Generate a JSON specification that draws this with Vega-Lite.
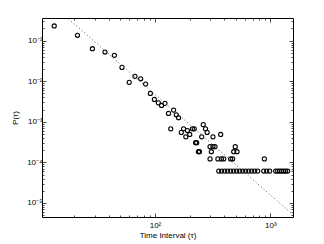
{
  "$schema": "https://vega.github.io/schema/vega-lite/v6.json",
  "width": 251,
  "height": 199,
  "autosize": {"type": "none"},
  "padding": {"left": 42, "top": 18, "right": 31, "bottom": 27},
  "background": "white",
  "config": {
    "view": {"stroke": null},
    "font": "Liberation Sans",
    "axis": {"labelFont": "Liberation Sans", "titleFont": "Liberation Sans", "labelFontSize": 8, "titleFontSize": 8, "titleFontWeight": "normal", "labelColor": "#000", "titleColor": "#000", "domainColor": "#000", "tickColor": "#000", "domainWidth": 1, "tickWidth": 0.7, "grid": false, "labelOverlap": false, "labelFlush": false}
  },
  "datasets": {
    "pts": [
      {"t": 13.4, "p": 0.231}, {"t": 21.3, "p": 0.136}, {"t": 28.7, "p": 0.0634}, {"t": 36.9, "p": 0.0526},
      {"t": 44.5, "p": 0.0436}, {"t": 51.8, "p": 0.022}, {"t": 59.8, "p": 0.0094}, {"t": 67.1, "p": 0.0132},
      {"t": 75.2, "p": 0.0115}, {"t": 83.0, "p": 0.00853}, {"t": 91.2, "p": 0.00502}, {"t": 98.8, "p": 0.00357},
      {"t": 107, "p": 0.00294}, {"t": 114, "p": 0.00254}, {"t": 122, "p": 0.00285}, {"t": 131, "p": 0.00161},
      {"t": 145, "p": 0.00195}, {"t": 153, "p": 0.00149}, {"t": 160, "p": 0.00126}, {"t": 137, "p": 0.000671},
      {"t": 169, "p": 0.000549}, {"t": 177, "p": 0.000671}, {"t": 191, "p": 0.00061}, {"t": 200, "p": 0.000488},
      {"t": 185, "p": 0.000427}, {"t": 211, "p": 0.000671}, {"t": 219, "p": 0.000671}, {"t": 225, "p": 0.000305},
      {"t": 230, "p": 0.000305}, {"t": 238, "p": 0.000183}, {"t": 243, "p": 0.000183}, {"t": 262, "p": 0.000854},
      {"t": 274, "p": 0.000671}, {"t": 283, "p": 0.000549}, {"t": 254, "p": 0.000427}, {"t": 318, "p": 0.000427},
      {"t": 371, "p": 0.000488}, {"t": 300, "p": 0.000244}, {"t": 318, "p": 0.000244}, {"t": 331, "p": 0.000244},
      {"t": 308, "p": 0.000183}, {"t": 300, "p": 0.000122}, {"t": 351, "p": 0.000122}, {"t": 376, "p": 0.000122},
      {"t": 394, "p": 0.000122}, {"t": 453, "p": 0.000122}, {"t": 471, "p": 0.000122}, {"t": 496, "p": 0.000244},
      {"t": 481, "p": 0.000183}, {"t": 514, "p": 0.000183}, {"t": 887, "p": 0.000122},
      {"t": 357, "p": 6.1e-05}, {"t": 378, "p": 6.1e-05}, {"t": 402, "p": 6.1e-05}, {"t": 426, "p": 6.1e-05},
      {"t": 453, "p": 6.1e-05}, {"t": 481, "p": 6.1e-05}, {"t": 511, "p": 6.1e-05}, {"t": 542, "p": 6.1e-05},
      {"t": 576, "p": 6.1e-05}, {"t": 611, "p": 6.1e-05}, {"t": 649, "p": 6.1e-05}, {"t": 689, "p": 6.1e-05},
      {"t": 731, "p": 6.1e-05}, {"t": 776, "p": 6.1e-05}, {"t": 875, "p": 6.1e-05}, {"t": 929, "p": 6.1e-05},
      {"t": 986, "p": 6.1e-05}, {"t": 1111, "p": 6.1e-05}, {"t": 1156, "p": 6.1e-05}, {"t": 1205, "p": 6.1e-05},
      {"t": 1253, "p": 6.1e-05}, {"t": 1303, "p": 6.1e-05}, {"t": 1357, "p": 6.1e-05}, {"t": 1413, "p": 6.1e-05}
    ],
    "fit": [
      {"t": 10.5, "p": 1.28},
      {"t": 1570, "p": 5.15e-06}
    ]
  },
  "layer": [
    {
      "data": {"name": "pts"},
      "mark": {"type": "point", "shape": "circle", "filled": false, "stroke": "#000", "strokeWidth": 1.1, "size": 17, "opacity": 1},
      "encoding": {
        "x": {"field": "t", "type": "quantitative",
          "scale": {"type": "log", "domain": [10.5, 1570], "nice": false},
          "axis": {"orient": "bottom", "title": "Time Interval (τ)", "titlePadding": 0,
            "values": [20,30,40,50,60,70,80,90,100,200,300,400,500,600,700,800,900,1000],
            "tickSize": {"condition": {"test": "datum.value==100||datum.value==1000", "value": -4}, "value": -2},
            "labelPadding": 8,
            "labelExpr": "datum.value==100?'10²':datum.value==1000?'10³':''"}},
        "y": {"field": "p", "type": "quantitative",
          "scale": {"type": "log", "domain": [4.5e-06, 0.363], "nice": false},
          "axis": {"orient": "left", "title": "P(τ)", "titlePadding": 7,
            "values": [5e-06,6e-06,7e-06,8e-06,9e-06,1e-05,2e-05,3e-05,4e-05,5e-05,6e-05,7e-05,8e-05,9e-05,0.0001,0.0002,0.0003,0.0004,0.0005,0.0006,0.0007,0.0008,0.0009,0.001,0.002,0.003,0.004,0.005,0.006,0.007,0.008,0.009,0.01,0.02,0.03,0.04,0.05,0.06,0.07,0.08,0.09,0.1,0.2,0.3],
            "tickSize": {"condition": {"test": "datum.value==1e-05||datum.value==0.0001||datum.value==0.001||datum.value==0.01||datum.value==0.1", "value": -4}, "value": -2},
            "labelPadding": 4,
            "labelExpr": "datum.value==0.1?'10⁻¹':datum.value==0.01?'10⁻²':datum.value==0.001?'10⁻³':datum.value==0.0001?'10⁻⁴':datum.value==1e-05?'10⁻⁵':''"}}
      }
    },
    {
      "data": {"name": "fit"},
      "mark": {"type": "line", "clip": true, "stroke": "#555", "strokeWidth": 1, "strokeDash": [1, 2.5]},
      "encoding": {
        "x": {"field": "t", "type": "quantitative",
          "axis": {"orient": "top", "title": null, "labels": false,
            "values": [20,30,40,50,60,70,80,90,100,200,300,400,500,600,700,800,900,1000],
            "tickSize": {"condition": {"test": "datum.value==100||datum.value==1000", "value": -4}, "value": -2}}},
        "y": {"field": "p", "type": "quantitative",
          "axis": {"orient": "right", "title": null, "labels": false,
            "values": [5e-06,6e-06,7e-06,8e-06,9e-06,1e-05,2e-05,3e-05,4e-05,5e-05,6e-05,7e-05,8e-05,9e-05,0.0001,0.0002,0.0003,0.0004,0.0005,0.0006,0.0007,0.0008,0.0009,0.001,0.002,0.003,0.004,0.005,0.006,0.007,0.008,0.009,0.01,0.02,0.03,0.04,0.05,0.06,0.07,0.08,0.09,0.1,0.2,0.3],
            "tickSize": {"condition": {"test": "datum.value==1e-05||datum.value==0.0001||datum.value==0.001||datum.value==0.01||datum.value==0.1", "value": -4}, "value": -2}}}
      }
    }
  ],
  "resolve": {"axis": {"x": "independent", "y": "independent"}}
}
